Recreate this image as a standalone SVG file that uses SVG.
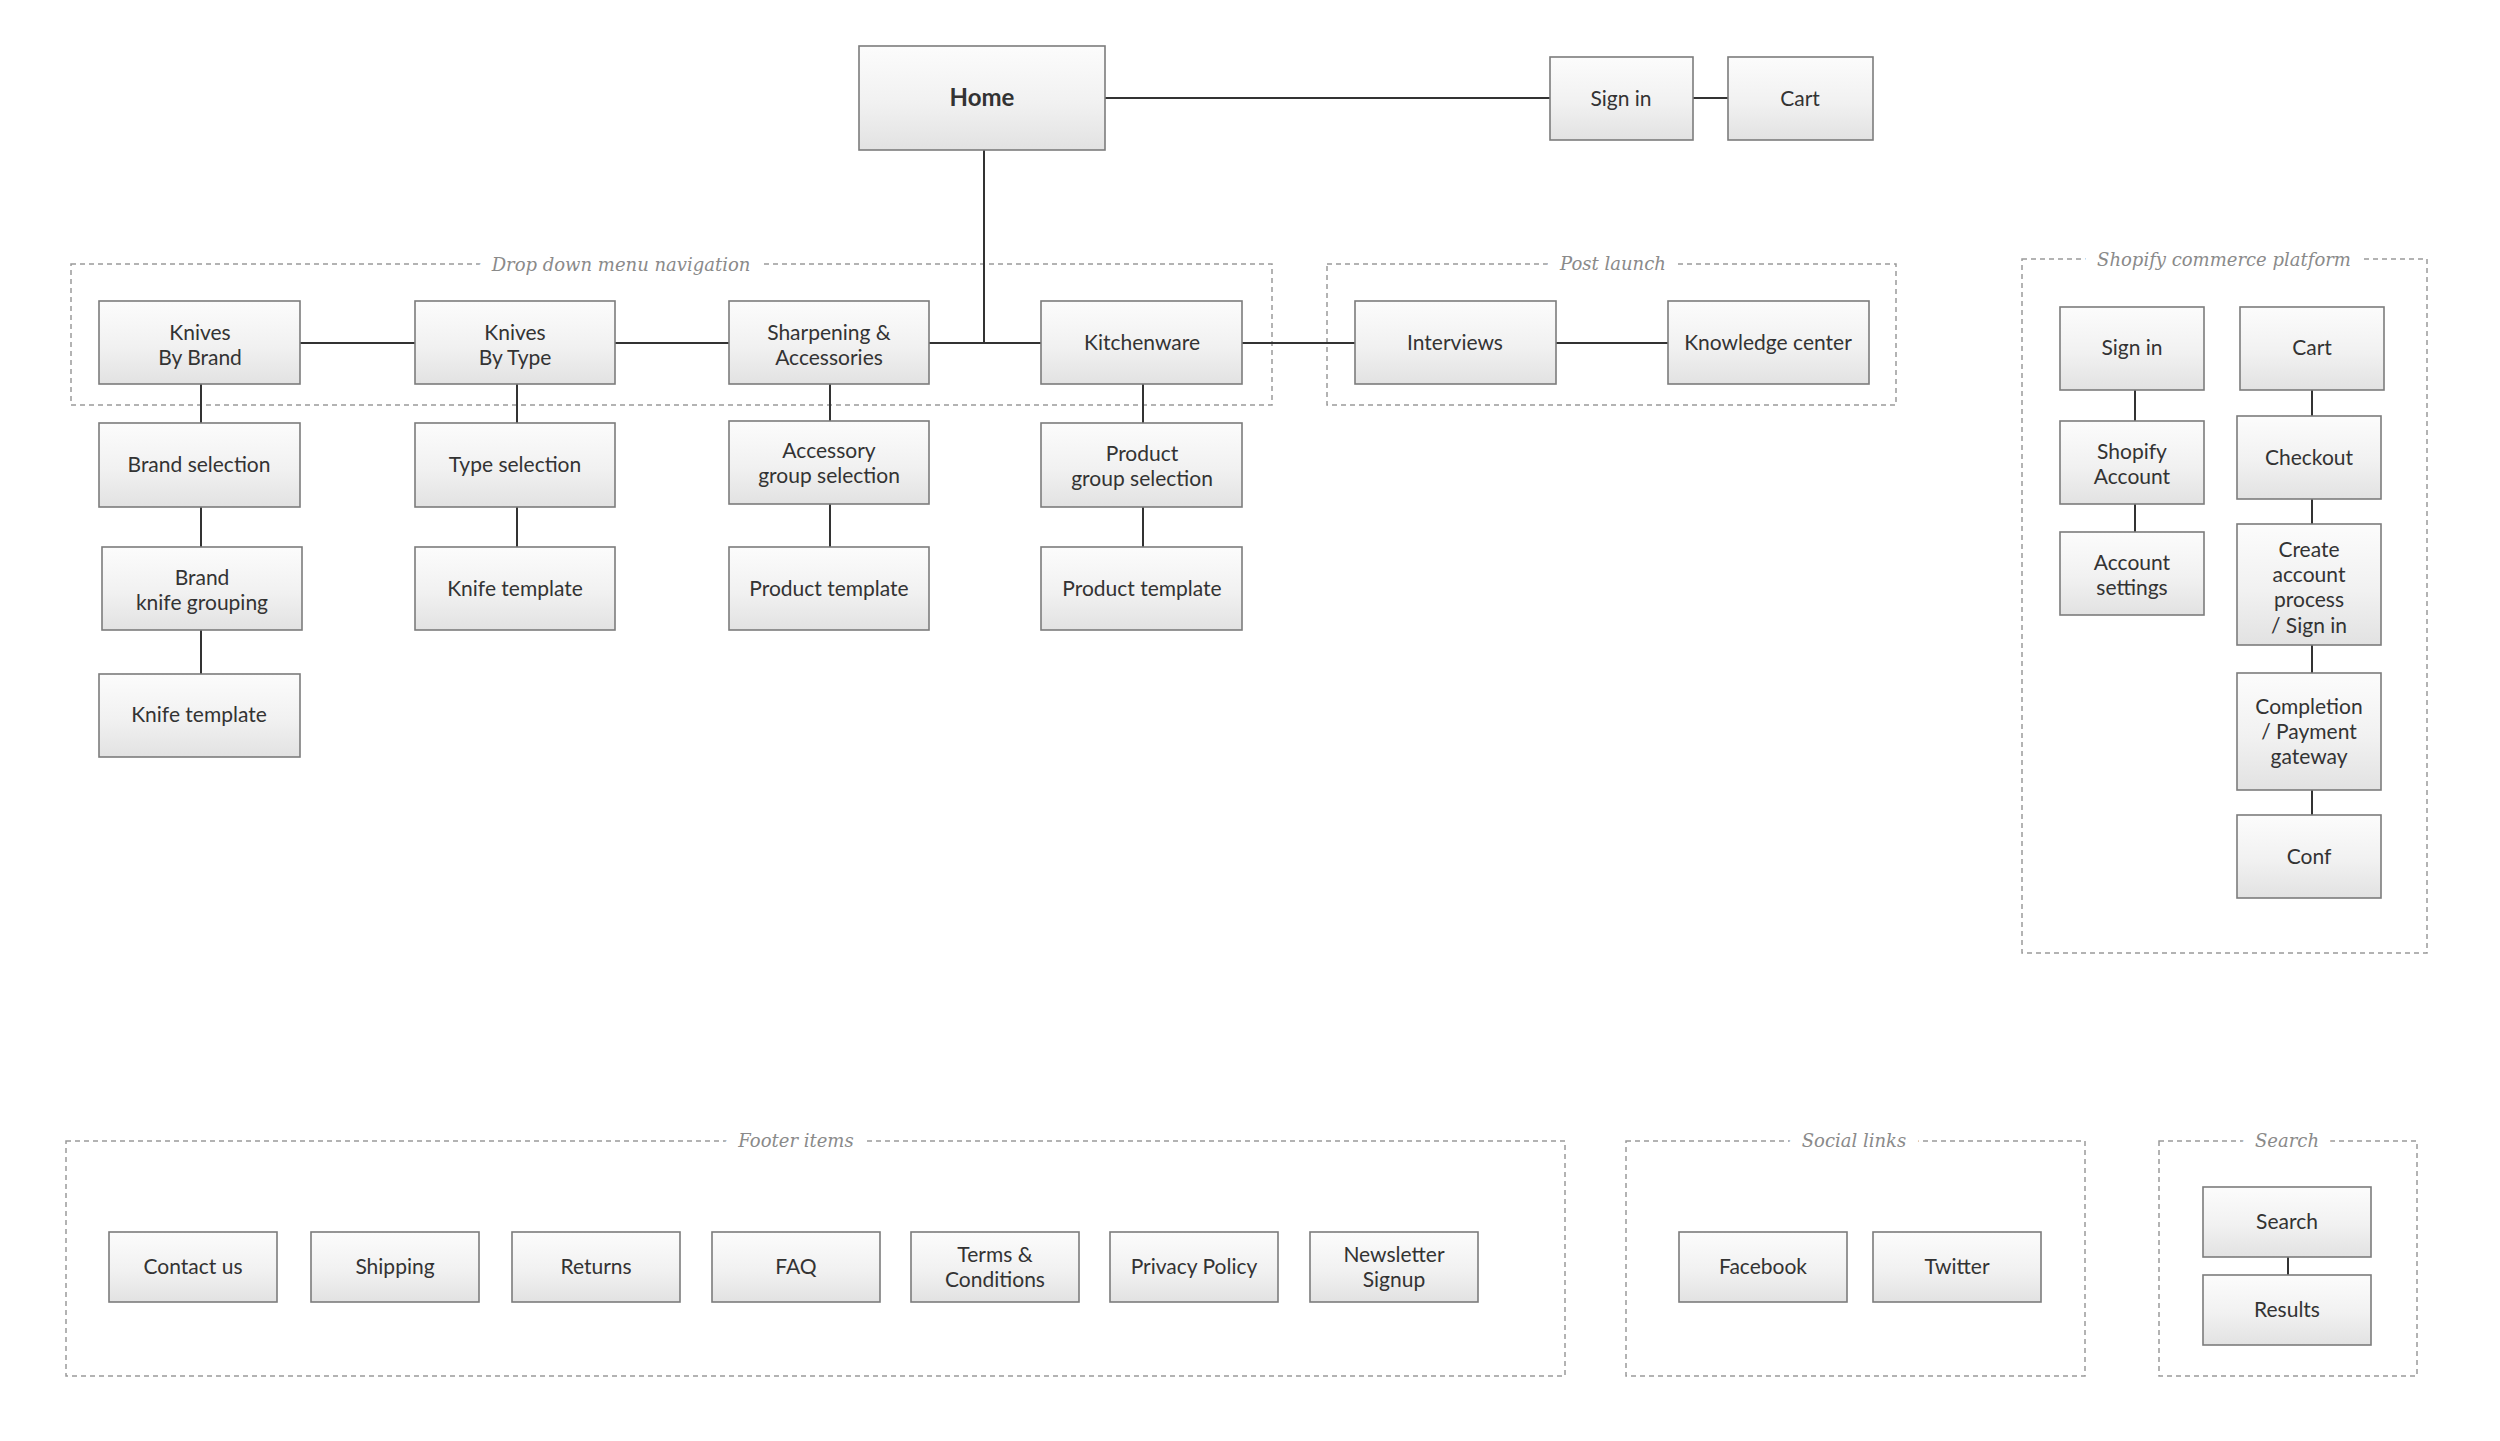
<svg xmlns="http://www.w3.org/2000/svg" width="2500" height="1441" viewBox="0 0 2500 1441">
<defs>
<linearGradient id="boxg" x1="0" y1="0" x2="0" y2="1">
<stop offset="0" stop-color="#fcfcfc"/>
<stop offset="0.55" stop-color="#f1f1f1"/>
<stop offset="1" stop-color="#e2e2e2"/>
</linearGradient>
<style>
.node rect{fill:url(#boxg);stroke:#7c7c7c;stroke-width:1.6}
.node text{font-family:"Gill Sans","Lato","Open Sans",sans-serif;font-size:21px;fill:#333;text-anchor:middle}
.node text.bold{font-weight:bold;font-size:24px}
.group rect{fill:none;stroke:#9a9a9a;stroke-width:1.5;stroke-dasharray:5 4}
.group text{font-family:"DejaVu Serif",serif;font-style:italic;font-size:18px;fill:#8a8a8a;text-anchor:middle;paint-order:stroke;stroke:#fff;stroke-width:26px;stroke-linejoin:round}
.conn path{fill:none;stroke:#333;stroke-width:2}
</style>
</defs>
<rect width="2500" height="1441" fill="#fff"/>

<g id="groups">
<g id="grp-dropdown" class="group"><rect x="71" y="264" width="1201" height="141"/><text x="621" y="271">Drop down menu navigation</text></g>
<g id="grp-postlaunch" class="group"><rect x="1327" y="264" width="569" height="141"/><text x="1613" y="270">Post launch</text></g>
<g id="grp-shopify" class="group"><rect x="2022" y="259" width="405" height="694"/><text x="2224" y="266">Shopify commerce platform</text></g>
<g id="grp-footer" class="group"><rect x="66" y="1141" width="1499" height="235"/><text x="796" y="1147">Footer items</text></g>
<g id="grp-social" class="group"><rect x="1626" y="1141" width="459" height="235"/><text x="1854" y="1147">Social links</text></g>
<g id="grp-search" class="group"><rect x="2159" y="1141" width="258" height="235"/><text x="2287" y="1147">Search</text></g>
</g>

<g id="connectors" class="conn">
<path d="M1105 98 H1550"/>
<path d="M1693 98 H1728"/>
<path d="M984 150 V343"/>
<path d="M300 343 H415"/>
<path d="M615 343 H729"/>
<path d="M929 343 H1041"/>
<path d="M1242 343 H1355"/>
<path d="M1556 343 H1668"/>
<path d="M201 384 V423"/>
<path d="M201 507 V547"/>
<path d="M201 630 V674"/>
<path d="M517 384 V423"/>
<path d="M517 507 V547"/>
<path d="M830 384 V421"/>
<path d="M830 504 V547"/>
<path d="M1143 384 V423"/>
<path d="M1143 507 V547"/>
<path d="M2135 390 V421"/>
<path d="M2135 504 V532"/>
<path d="M2312 390 V416"/>
<path d="M2312 499 V524"/>
<path d="M2312 645 V673"/>
<path d="M2312 790 V815"/>
<path d="M2288 1257 V1275"/>
</g>

<g id="node-home" class="node"><rect x="859" y="46" width="246" height="104"/><text class="bold" x="982" y="106">Home</text></g>
<g id="node-signin-top" class="node"><rect x="1550" y="57" width="143" height="83"/><text x="1621" y="106">Sign in</text></g>
<g id="node-cart-top" class="node"><rect x="1728" y="57" width="145" height="83"/><text x="1800" y="106">Cart</text></g>

<g id="node-knives-brand" class="node"><rect x="99" y="301" width="201" height="83"/><text x="200" y="340">Knives</text><text x="200" y="365">By Brand</text></g>
<g id="node-knives-type" class="node"><rect x="415" y="301" width="200" height="83"/><text x="515" y="340">Knives</text><text x="515" y="365">By Type</text></g>
<g id="node-sharpening" class="node"><rect x="729" y="301" width="200" height="83"/><text x="829" y="340">Sharpening &amp;</text><text x="829" y="365">Accessories</text></g>
<g id="node-kitchenware" class="node"><rect x="1041" y="301" width="201" height="83"/><text x="1142" y="350">Kitchenware</text></g>
<g id="node-interviews" class="node"><rect x="1355" y="301" width="201" height="83"/><text x="1455" y="350">Interviews</text></g>
<g id="node-knowledge" class="node"><rect x="1668" y="301" width="201" height="83"/><text x="1768" y="350">Knowledge center</text></g>

<g id="node-brand-selection" class="node"><rect x="99" y="423" width="201" height="84"/><text x="199" y="472">Brand selection</text></g>
<g id="node-brand-grouping" class="node"><rect x="102" y="547" width="200" height="83"/><text x="202" y="585">Brand</text><text x="202" y="610">knife grouping</text></g>
<g id="node-knife-template-1" class="node"><rect x="99" y="674" width="201" height="83"/><text x="199" y="722">Knife template</text></g>
<g id="node-type-selection" class="node"><rect x="415" y="423" width="200" height="84"/><text x="515" y="472">Type selection</text></g>
<g id="node-knife-template-2" class="node"><rect x="415" y="547" width="200" height="83"/><text x="515" y="596">Knife template</text></g>
<g id="node-accessory-group" class="node"><rect x="729" y="421" width="200" height="83"/><text x="829" y="458">Accessory</text><text x="829" y="483">group selection</text></g>
<g id="node-product-template-1" class="node"><rect x="729" y="547" width="200" height="83"/><text x="829" y="596">Product template</text></g>
<g id="node-product-group" class="node"><rect x="1041" y="423" width="201" height="84"/><text x="1142" y="461">Product</text><text x="1142" y="486">group selection</text></g>
<g id="node-product-template-2" class="node"><rect x="1041" y="547" width="201" height="83"/><text x="1142" y="596">Product template</text></g>

<g id="node-sp-signin" class="node"><rect x="2060" y="307" width="144" height="83"/><text x="2132" y="355">Sign in</text></g>
<g id="node-sp-account" class="node"><rect x="2060" y="421" width="144" height="83"/><text x="2132" y="459">Shopify</text><text x="2132" y="484">Account</text></g>
<g id="node-sp-settings" class="node"><rect x="2060" y="532" width="144" height="83"/><text x="2132" y="570">Account</text><text x="2132" y="595">settings</text></g>
<g id="node-sp-cart" class="node"><rect x="2240" y="307" width="144" height="83"/><text x="2312" y="355">Cart</text></g>
<g id="node-sp-checkout" class="node"><rect x="2237" y="416" width="144" height="83"/><text x="2309" y="465">Checkout</text></g>
<g id="node-sp-create" class="node"><rect x="2237" y="524" width="144" height="121"/><text x="2309" y="557">Create</text><text x="2309" y="582">account</text><text x="2309" y="607">process</text><text x="2309" y="633">/ Sign in</text></g>
<g id="node-sp-completion" class="node"><rect x="2237" y="673" width="144" height="117"/><text x="2309" y="714">Completion</text><text x="2309" y="739">/ Payment</text><text x="2309" y="764">gateway</text></g>
<g id="node-sp-conf" class="node"><rect x="2237" y="815" width="144" height="83"/><text x="2309" y="864">Conf</text></g>

<g id="node-contact" class="node"><rect x="109" y="1232" width="168" height="70"/><text x="193" y="1274">Contact us</text></g>
<g id="node-shipping" class="node"><rect x="311" y="1232" width="168" height="70"/><text x="395" y="1274">Shipping</text></g>
<g id="node-returns" class="node"><rect x="512" y="1232" width="168" height="70"/><text x="596" y="1274">Returns</text></g>
<g id="node-faq" class="node"><rect x="712" y="1232" width="168" height="70"/><text x="796" y="1274">FAQ</text></g>
<g id="node-terms" class="node"><rect x="911" y="1232" width="168" height="70"/><text x="995" y="1262">Terms &amp;</text><text x="995" y="1287">Conditions</text></g>
<g id="node-privacy" class="node"><rect x="1110" y="1232" width="168" height="70"/><text x="1194" y="1274">Privacy Policy</text></g>
<g id="node-newsletter" class="node"><rect x="1310" y="1232" width="168" height="70"/><text x="1394" y="1262">Newsletter</text><text x="1394" y="1287">Signup</text></g>

<g id="node-facebook" class="node"><rect x="1679" y="1232" width="168" height="70"/><text x="1763" y="1274">Facebook</text></g>
<g id="node-twitter" class="node"><rect x="1873" y="1232" width="168" height="70"/><text x="1957" y="1274">Twitter</text></g>
<g id="node-search" class="node"><rect x="2203" y="1187" width="168" height="70"/><text x="2287" y="1229">Search</text></g>
<g id="node-results" class="node"><rect x="2203" y="1275" width="168" height="70"/><text x="2287" y="1317">Results</text></g>
</svg>
